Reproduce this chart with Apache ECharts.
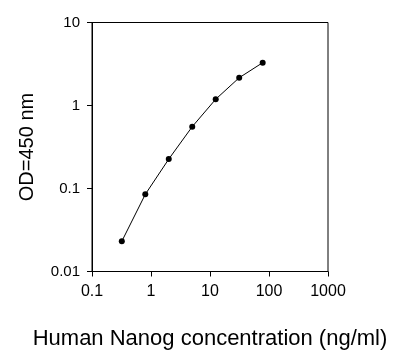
<!DOCTYPE html>
<html><head><meta charset="utf-8">
<script src="https://cdn.jsdelivr.net/npm/echarts@6/dist/echarts.min.js"></script>
<style>html,body{margin:0;padding:0;background:#fff}#c{width:402px;height:359px}</style>
</head><body><div id="c"></div>
<script>
const concentrations = [0.32, 0.8, 2, 5, 12.5, 31.25, 78.125];
const odValues = [0.0231, 0.085, 0.226, 0.556, 1.19, 2.16, 3.28];
const xTitle = 'Human Nanog concentration (ng/ml)';
const yTitle = 'OD=450 nm';
const fmt = v => { const m = {0.01:'0.01',0.1:'0.1',1:'1',10:'10',100:'100',1000:'1000'}; for (const k in m) if (Math.abs(v - Number(k)) / Number(k) < 1e-6) return m[k]; return ''; };
const font = 'Liberation Sans, Arial, sans-serif';
const chart = echarts.init(document.getElementById('c'), null, {renderer: 'canvas'});
chart.setOption({
  animation: false,
  grid: {left: 92, right: 74, top: 22.5, bottom: 87.5, show: true, borderColor: '#000', borderWidth: 1},
  xAxis: {
    type: 'log', logBase: 10, min: 0.1, max: 1000,
    name: xTitle, nameLocation: 'middle', nameGap: 56,
    nameTextStyle: {fontFamily: font, fontSize: 22, color: '#000', verticalAlign: 'top'},
    axisLine: {show: true, lineStyle: {color: '#000', width: 1}},
    axisTick: {show: true, length: 5, lineStyle: {color: '#000'}},
    minorTick: {show: false},
    splitLine: {show: false},
    axisLabel: {fontFamily: font, fontSize: 16, color: '#000', margin: 12, formatter: fmt}
  },
  yAxis: {
    type: 'log', logBase: 10, min: 0.01, max: 10,
    name: yTitle, nameLocation: 'middle', nameGap: 55, nameRotate: 90,
    nameTextStyle: {fontFamily: font, fontSize: 20, color: '#000'},
    axisLine: {show: true, lineStyle: {color: '#000', width: 1}},
    axisTick: {show: true, length: 5, lineStyle: {color: '#000'}},
    splitLine: {show: false},
    axisLabel: {fontFamily: font, fontSize: 15, color: '#000', margin: 12, formatter: fmt}
  },
  series: [{
    type: 'line',
    data: concentrations.map((x, i) => [x, odValues[i]]),
    symbol: 'circle', symbolSize: 6,
    itemStyle: {color: '#000'},
    lineStyle: {color: '#000', width: 1}
  }]
});
</script></body></html>
